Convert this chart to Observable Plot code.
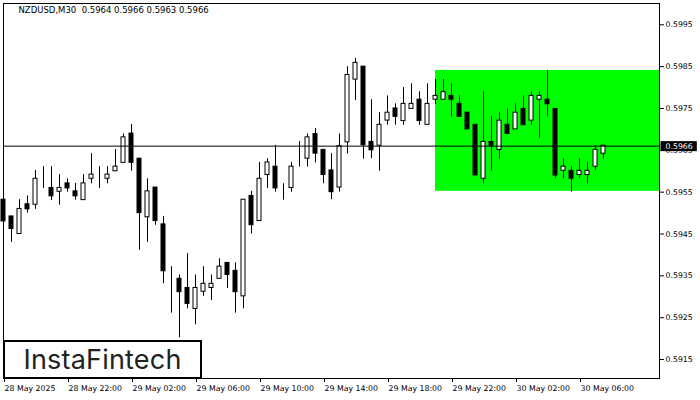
<!DOCTYPE html>
<html><head><meta charset="utf-8">
<script src="https://cdn.jsdelivr.net/npm/d3@7"></script>
<script src="https://cdn.jsdelivr.net/npm/@observablehq/plot@0.6"></script>
<style>
html,body{margin:0;padding:0;background:#fff;}
#wrap{position:relative;width:700px;height:400px;overflow:hidden;}
#logo{position:absolute;left:3px;top:340px;width:199px;height:39px;box-sizing:border-box;border:2px solid #000;background:#fff;display:flex;align-items:center;justify-content:center;font-family:Inter,"Open Sans",sans-serif;font-size:27px;color:#222;letter-spacing:0.2px;}
</style></head><body>
<div id="wrap"><div id="chart"></div><div id="logo">InstaFintech</div></div>
<script>
const symbolTitle = "NZDUSD,M30  0.5964 0.5966 0.5963 0.5966";
const opens = [
0.59532,0.59492,0.59450,0.59521,0.59520,0.59571,0.59560,0.59551,0.59571,0.59552,
0.59531,0.59582,0.59582,0.59582,0.59600,0.59620,0.59690,0.59630,0.59490,0.59561,
0.59473,0.59352,0.59343,0.59321,0.59271,0.59312,0.59321,0.59343,0.59381,0.59362,
0.59301,0.59541,0.59481,0.59591,0.59611,0.59551,0.59560,0.59620,0.59630,0.59689,
0.59651,0.59602,0.59561,0.59669,0.59819,0.59850,0.59670,0.59661,0.59721,0.59750,
0.59720,0.59749,0.59771,0.59711,0.59771,0.59771,0.59780,0.59761,0.59740,0.59711,
0.59582,0.59670,0.59651,0.59711,0.59700,0.59749,0.59721,0.59771,0.59771,0.59749,
0.59601,0.59601,0.59591,0.59591,0.59611,0.59642];
const highs = [
0.59552,0.59492,0.59532,0.59541,0.59602,0.59611,0.59611,0.59592,0.59582,0.59571,
0.59592,0.59642,0.59611,0.59611,0.59652,0.59689,0.59712,0.59630,0.59582,0.59561,
0.59492,0.59372,0.59352,0.59403,0.59352,0.59372,0.59352,0.59391,0.59381,0.59381,
0.59532,0.59552,0.59621,0.59630,0.59662,0.59570,0.59621,0.59671,0.59689,0.59702,
0.59651,0.59642,0.59689,0.59850,0.59870,0.59850,0.59771,0.59740,0.59780,0.59761,
0.59800,0.59809,0.59790,0.59809,0.59819,0.59819,0.59809,0.59780,0.59740,0.59711,
0.59790,0.59731,0.59740,0.59749,0.59761,0.59780,0.59790,0.59790,0.59841,0.59749,
0.59630,0.59611,0.59630,0.59621,0.59661,0.59661];
const lows = [
0.59450,0.59430,0.59450,0.59500,0.59509,0.59559,0.59530,0.59519,0.59550,0.59531,
0.59531,0.59570,0.59559,0.59570,0.59600,0.59620,0.59600,0.59411,0.59430,0.59471,
0.59331,0.59261,0.59202,0.59271,0.59233,0.59301,0.59291,0.59343,0.59320,0.59261,
0.59271,0.59450,0.59481,0.59559,0.59550,0.59531,0.59550,0.59610,0.59610,0.59620,
0.59570,0.59532,0.59550,0.59641,0.59769,0.59629,0.59630,0.59600,0.59710,0.59710,
0.59710,0.59749,0.59710,0.59710,0.59760,0.59771,0.59730,0.59730,0.59700,0.59590,
0.59570,0.59600,0.59629,0.59689,0.59700,0.59710,0.59710,0.59679,0.59730,0.59582,
0.59582,0.59550,0.59582,0.59570,0.59601,0.59629];
const closes = [
0.59480,0.59462,0.59510,0.59509,0.59582,0.59571,0.59540,0.59560,0.59559,0.59540,
0.59571,0.59592,0.59582,0.59592,0.59611,0.59681,0.59620,0.59500,0.59552,0.59481,
0.59361,0.59352,0.59311,0.59283,0.59321,0.59331,0.59331,0.59372,0.59352,0.59311,
0.59532,0.59471,0.59582,0.59621,0.59559,0.59551,0.59611,0.59620,0.59681,0.59642,
0.59591,0.59550,0.59660,0.59830,0.59859,0.59662,0.59650,0.59711,0.59740,0.59730,
0.59761,0.59761,0.59720,0.59761,0.59780,0.59789,0.59771,0.59730,0.59700,0.59590,
0.59670,0.59661,0.59721,0.59689,0.59740,0.59710,0.59780,0.59780,0.59760,0.59590,
0.59611,0.59582,0.59601,0.59601,0.59651,0.59661];
const timeTickIndex = [0,8,16,24,32,40,48,56,64,72];
const timeTickLabels = ["28 May 2025","28 May 22:00","29 May 02:00","29 May 06:00","29 May 10:00","29 May 14:00","29 May 18:00","29 May 22:00","30 May 02:00","30 May 06:00"];
const priceTicks = [0.5915,0.5925,0.5935,0.5945,0.5955,0.5965,0.5975,0.5985,0.5995];
const currentPrice = [0.5966];
const patternStart = [54];
const patternTop = [0.59841];
const patternBottom = [0.59552];

const candles = opens.map((o,i)=>({i, open:o, high:highs[i], low:lows[i], close:closes[i]}));
const box = patternStart.map((s,j)=>({start:s, top:patternTop[j], bottom:patternBottom[j]}));

const chart = Plot.plot({
  width:700, height:400, marginTop:3, marginBottom:22, marginLeft:3, marginRight:41,
  style:{fontFamily:"'DejaVu Sans', sans-serif", fontSize:"7.8px", background:"#fff", color:"#000", overflow:"visible"},
  x:{type:"linear", domain:[0, 82], axis:null},
  y:{domain:[0.591047, 0.600009], axis:null},
  marks:[
    Plot.rect(box, {x1:"start", x2:()=>200, y1:"bottom", y2:"top", fill:"#00ff00", clip:true}),
    Plot.ruleX(candles, {x:"i", y1:"low", y2:"high", stroke:"#000", strokeWidth:1}),
    Plot.rect(candles, {x1:d=>d.i-0.25, x2:d=>d.i+0.25, y1:"open", y2:"close",
      fill:d=>d.close>d.open?"#fff":"#000", stroke:"#000", strokeWidth:1}),
    Plot.ruleY(currentPrice, {stroke:"#000", strokeWidth:1}),
    Plot.frame({stroke:"#000"}),
    Plot.axisY(priceTicks, {anchor:"right", tickSize:4, tickPadding:2, tickFormat:d=>d.toFixed(4), label:null, fill:"#000"}),
    Plot.axisX(timeTickIndex, {anchor:"bottom", tickSize:4, tickPadding:3, tickFormat:d=>timeTickLabels[timeTickIndex.indexOf(d)], textAnchor:"start", dx:1, label:null, fill:"#000"}),
    Plot.text([symbolTitle], {frameAnchor:"top-left", dx:15, dy:3, textAnchor:"start", lineAnchor:"top", fontSize:8.5, fill:"#000", text:d=>d}),
    Plot.text(currentPrice, {y:d=>d, text:d=>d.toFixed(4), frameAnchor:"right", textAnchor:"start", dx:6, fill:"#fff"})
  ]
});
document.getElementById("chart").appendChild(chart);
const svg = d3.select(chart);
svg.selectAll("text").filter(function(){return this.textContent===symbolTitle;}).style("white-space","pre");
svg.selectAll("text").filter(function(){return this.textContent===currentPrice[0].toFixed(4);}).each(function(){
  const b = this.getBBox();
  const tf = this.getAttribute("transform");
  const r = document.createElementNS("http://www.w3.org/2000/svg","rect");
  r.setAttribute("x", b.x-5); r.setAttribute("y", b.y-0.5);
  r.setAttribute("width", b.width+9); r.setAttribute("height", b.height+1);
  r.setAttribute("fill", "#000");
  if (tf) r.setAttribute("transform", tf);
  this.parentNode.insertBefore(r, this);
});
</script></body></html>
